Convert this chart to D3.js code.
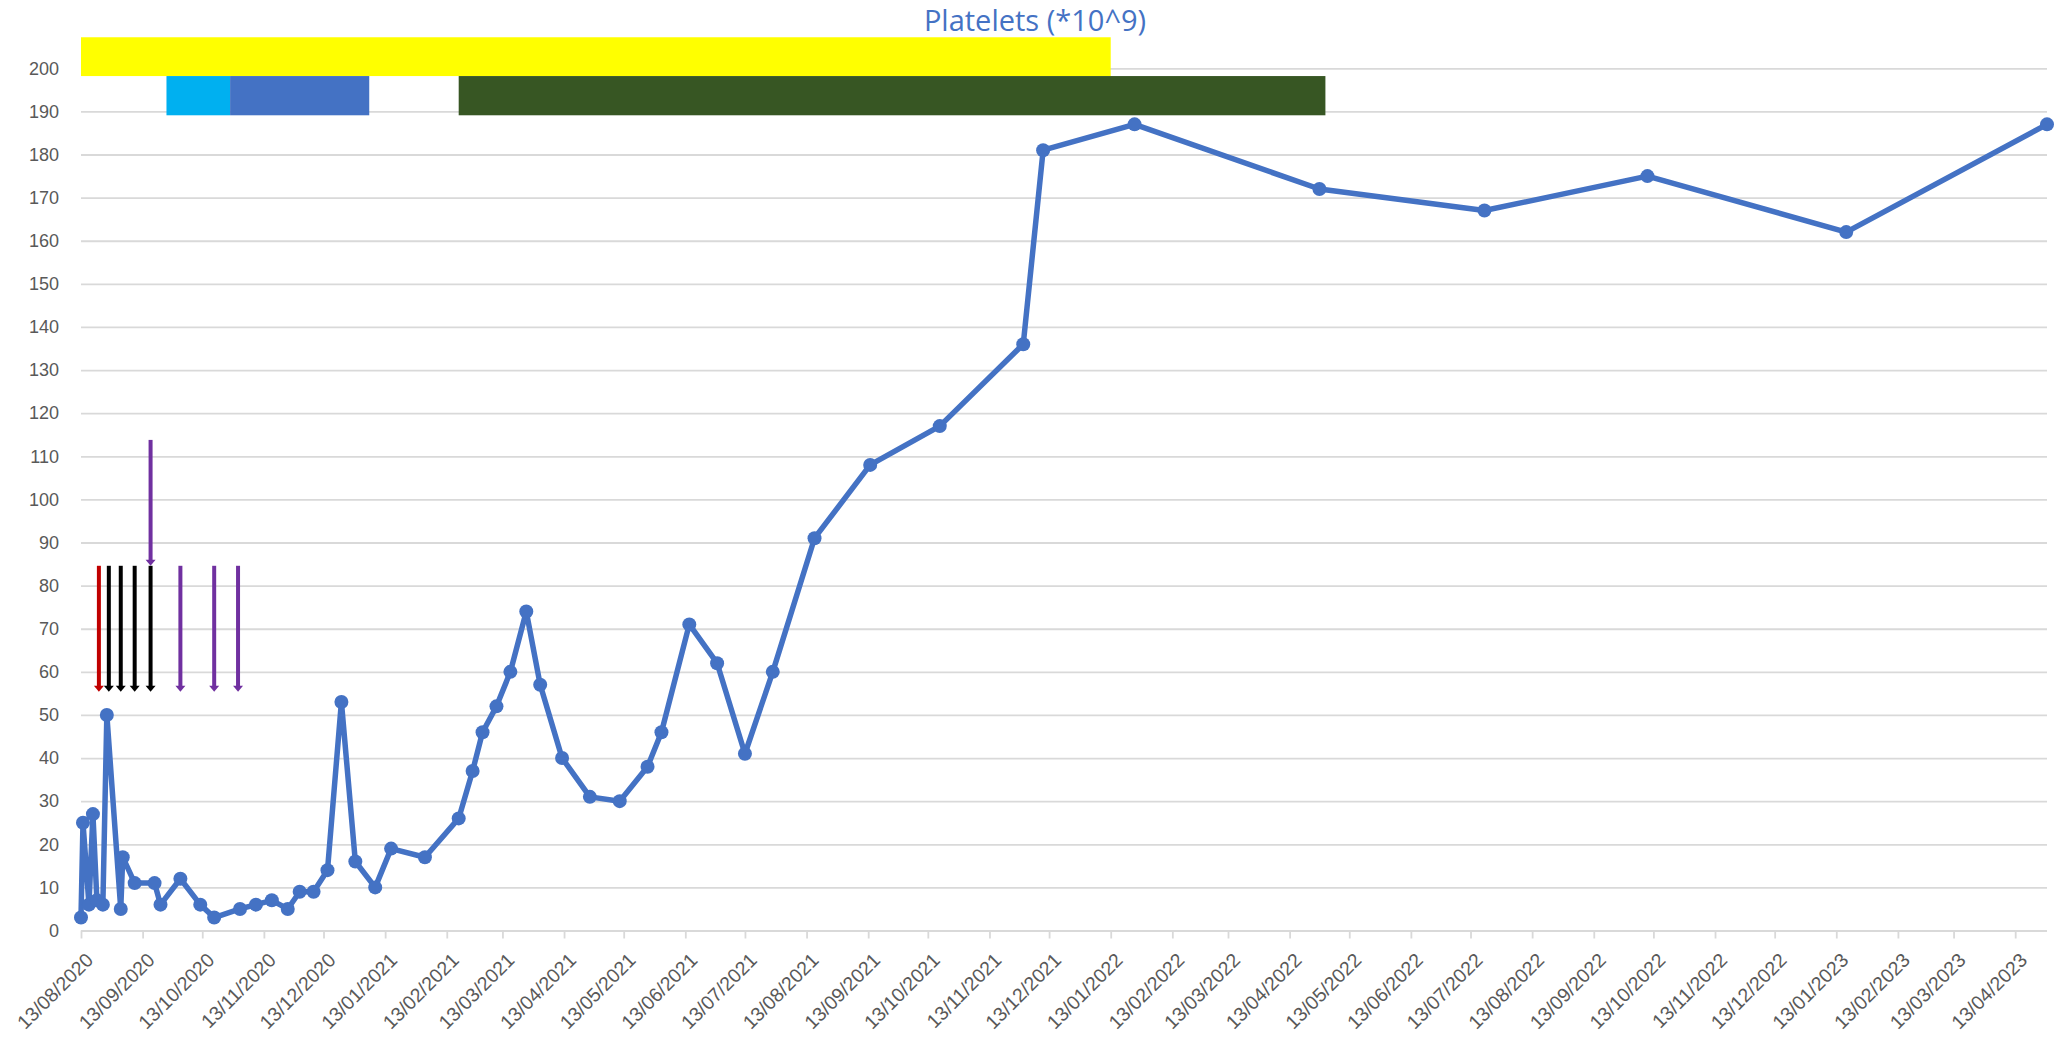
<!DOCTYPE html>
<html>
<head>
<meta charset="UTF-8">
<title>Platelets</title>
<style>
    body { margin: 0; background: white; }
    svg { display: block; font-family: "Open Sans", sans-serif; }
    .grid line { stroke: #d9d9d9; stroke-width: 1.8px; }
    .ylab text { fill: #595959; font-size: 18px; }
    .xax line { stroke: #d9d9d9; stroke-width: 1.8px; }
    .xax text { fill: #595959; font-size: 19.5px; }
</style>
</head>
<body>
<script src="https://d3js.org/d3.v7.min.js"></script>
<script>
    // measurement dates and platelet counts (*10^9)
    var dates = ["2020-08-13", "2020-08-14", "2020-08-17", "2020-08-19", "2020-08-21", "2020-08-24",
        "2020-08-26", "2020-09-02", "2020-09-03", "2020-09-09", "2020-09-19", "2020-09-22",
        "2020-10-02", "2020-10-12", "2020-10-19", "2020-11-01", "2020-11-09", "2020-11-17",
        "2020-11-25", "2020-12-01", "2020-12-08", "2020-12-15", "2020-12-22", "2020-12-29",
        "2021-01-08", "2021-01-16", "2021-02-02", "2021-02-19", "2021-02-26", "2021-03-03",
        "2021-03-10", "2021-03-17", "2021-03-25", "2021-04-01", "2021-04-12", "2021-04-26",
        "2021-05-11", "2021-05-25", "2021-06-01", "2021-06-15", "2021-06-29", "2021-07-13",
        "2021-07-27", "2021-08-17", "2021-09-14", "2021-10-19", "2021-11-30", "2021-12-10",
        "2022-01-25", "2022-04-28", "2022-07-20", "2022-10-10", "2023-01-18", "2023-04-29"];
    var platelets = [3, 25, 6, 27, 7, 6,
        50, 5, 17, 11, 11, 6,
        12, 6, 3, 5, 6, 7,
        5, 9, 9, 14, 53, 16,
        10, 19, 17, 26, 37, 46,
        52, 60, 74, 57, 40, 31,
        30, 38, 46, 71, 62, 41,
        60, 91, 108, 117, 136, 181,
        187, 172, 167, 175, 162, 187];

    var xTickLabels = ["13/08/2020", "13/09/2020", "13/10/2020", "13/11/2020", "13/12/2020",
        "13/01/2021", "13/02/2021", "13/03/2021", "13/04/2021", "13/05/2021", "13/06/2021",
        "13/07/2021", "13/08/2021", "13/09/2021", "13/10/2021", "13/11/2021", "13/12/2021",
        "13/01/2022", "13/02/2022", "13/03/2022", "13/04/2022", "13/05/2022", "13/06/2022",
        "13/07/2022", "13/08/2022", "13/09/2022", "13/10/2022", "13/11/2022", "13/12/2022",
        "13/01/2023", "13/02/2023", "13/03/2023", "13/04/2023"];
    var yTicks = [0, 10, 20, 30, 40, 50, 60, 70, 80, 90, 100, 110, 120, 130, 140, 150, 160, 170, 180, 190, 200];

    // treatment bars at the top
    var barStart = ["2020-08-13", "2020-09-25", "2020-10-27", "2021-02-19"];
    var barEnd = ["2022-01-13", "2020-10-27", "2021-01-05", "2022-05-01"];
    var barLow = [198.2, 189.1, 189.1, 189.1];
    var barHigh = [207.2, 198.2, 198.2, 198.2];
    var barColor = ["#ffff00", "#00b0f0", "#4472c4", "#375623"];

    // arrows
    var arrowDates = ["2020-08-22", "2020-08-27", "2020-09-02", "2020-09-09", "2020-09-17",
        "2020-09-17", "2020-10-02", "2020-10-19", "2020-10-31"];
    var arrowTop = [84.6, 84.6, 84.6, 84.6, 84.6, 113.8, 84.6, 84.6, 84.6];
    var arrowTip = [55.4, 55.4, 55.4, 55.4, 55.4, 84.6, 55.4, 55.4, 55.4];
    var arrowColor = ["#c00000", "#000000", "#000000", "#000000", "#000000",
        "#7030a0", "#7030a0", "#7030a0", "#7030a0"];

    var W = 2057, H = 1038;
    var margin = {top: 68.3, right: 10, bottom: 107.5, left: 81};
    var w = W - margin.left - margin.right,
        h = H - margin.top - margin.bottom;

    var parse = d3.timeParse("%Y-%m-%d");
    var parseTick = d3.timeParse("%d/%m/%Y");

    var pts = dates.map(function(d, i) { return {date: parse(d), v: platelets[i]}; });

    var x = d3.scaleTime()
        .domain([parse(dates[0]), parse(dates[dates.length - 1])])
        .range([0, w]);
    var y = d3.scaleLinear().domain([0, 200]).range([h, 0]);

    var svg = d3.select("body").append("svg")
        .attr("width", W)
        .attr("height", H);

    var g = svg.append("g").attr("transform", "translate(" + margin.left + "," + margin.top + ")");

    // gridlines + y labels
    g.append("g")
        .attr("class", "grid ylab")
        .call(d3.axisLeft(y).tickValues(yTicks).tickSize(-w).tickPadding(22))
        .call(function(s) { s.select(".domain").remove(); });

    // x axis ticks and rotated labels
    var xa = g.append("g")
        .attr("class", "xax")
        .attr("transform", "translate(0," + h + ")")
        .call(d3.axisBottom(x)
            .tickValues(xTickLabels.map(parseTick))
            .tickFormat(d3.timeFormat("%d/%m/%Y"))
            .tickSize(8));
    xa.select(".domain").remove();
    xa.selectAll("text")
        .attr("x", 0).attr("y", 0).attr("dy", "0.35em")
        .attr("text-anchor", "end")
        .attr("transform", "translate(8,26) rotate(-45)");

    // bars
    g.selectAll("rect.bar")
        .data(barStart)
        .enter().append("rect")
        .attr("class", "bar")
        .attr("x", function(d) { return x(parse(d)); })
        .attr("width", function(d, i) { return x(parse(barEnd[i])) - x(parse(d)); })
        .attr("y", function(d, i) { return y(barHigh[i]); })
        .attr("height", function(d, i) { return y(barLow[i]) - y(barHigh[i]); })
        .attr("fill", function(d, i) { return barColor[i]; });

    // arrows
    var ar = g.selectAll("g.arrow")
        .data(arrowDates)
        .enter().append("g")
        .attr("class", "arrow");
    ar.append("line")
        .attr("x1", function(d) { return x(parse(d)); })
        .attr("x2", function(d) { return x(parse(d)); })
        .attr("y1", function(d, i) { return y(arrowTop[i]); })
        .attr("y2", function(d, i) { return y(arrowTip[i]) - 4; })
        .attr("stroke", function(d, i) { return arrowColor[i]; })
        .attr("stroke-width", 4);
    ar.append("path")
        .attr("d", function(d, i) {
            var cx = x(parse(d)), ty = y(arrowTip[i]);
            return "M" + (cx - 5) + "," + (ty - 6) + "L" + (cx + 5) + "," + (ty - 6) + "L" + cx + "," + ty + "Z";
        })
        .attr("fill", function(d, i) { return arrowColor[i]; });

    // line
    var line = d3.line()
        .x(function(d) { return x(d.date); })
        .y(function(d) { return y(d.v); });

    g.append("path")
        .datum(pts)
        .attr("fill", "none")
        .attr("stroke", "#4472c4")
        .attr("stroke-width", 5.5)
        .attr("stroke-linejoin", "round")
        .attr("d", line);

    g.selectAll("circle")
        .data(pts)
        .enter().append("circle")
        .attr("cx", function(d) { return x(d.date); })
        .attr("cy", function(d) { return y(d.v); })
        .attr("r", 7)
        .attr("fill", "#4472c4");

    // title
    svg.append("text")
        .attr("x", 1035)
        .attr("y", 31)
        .attr("text-anchor", "middle")
        .attr("fill", "#4472c4")
        .style("font-size", "29px")
        .text("Platelets (*10^9)");
</script>
</body>
</html>
